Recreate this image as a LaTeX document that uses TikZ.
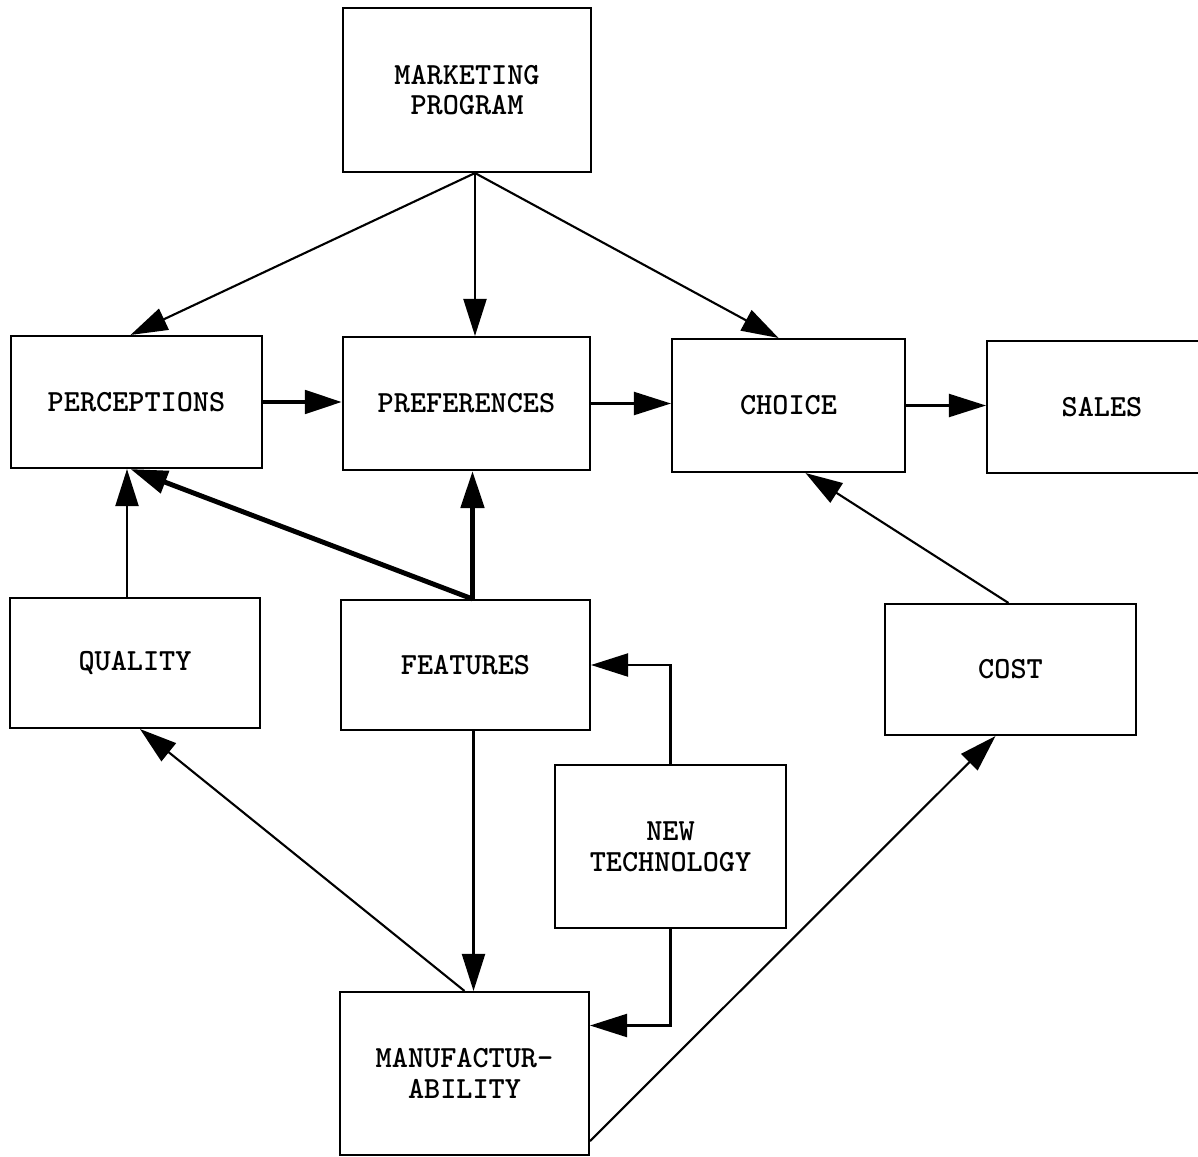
\documentclass[tikz,border=0pt]{standalone}
\usepackage{fontspec}
\usepackage{tikz}
\usetikzlibrary{positioning,arrows.meta,calc}

\begin{document}
\begin{tikzpicture}[
  x=0.02cm, y=-0.02cm,
  font=\ttfamily\bfseries\fontsize{17.5}{17.5}\selectfont,
  box/.style={
    rectangle, draw=black, line width=1.2pt,
    inner sep=0pt, align=center
  },
  arrow/.style={-{Triangle[length=0.74cm,width=0.46cm]}, line width=1.2pt},
  heavy/.style={arrow, line width=2.8pt}
]

\useasboundingbox (0,0) rectangle (1198,1157);

% --- TOP ROW ---
\node[box, minimum width=4.96cm, minimum height=3.28cm] (market) at (467,90) {MARKETING\\PROGRAM};

% --- MIDDLE ROW ---
\node[box, minimum width=5.02cm, minimum height=2.64cm] (percep) at (136.5,402) {PERCEPTIONS};
\node[box, minimum width=4.94cm, minimum height=2.66cm] (prefer) at (466.5,403.5) {PREFERENCES};
\node[box, minimum width=4.66cm, minimum height=2.66cm] (choice) at (788.5,405.5) {CHOICE};
\node[box, minimum width=4.60cm, minimum height=2.64cm] (sales) at (1102,407) {SALES};

% --- PRODUCT ROW ---
\node[box, minimum width=5.00cm, minimum height=2.60cm] (quality) at (135,663) {QUALITY};
\node[box, minimum width=4.98cm, minimum height=2.60cm] (features) at (465.5,665) {FEATURES};
\node[box, minimum width=5.02cm, minimum height=2.62cm] (cost) at (1010.5,669.5) {COST};

% --- BOTTOM ---
\node[box, minimum width=4.62cm, minimum height=3.26cm] (newtech) at (670.5,846.5) {NEW\\TECHNOLOGY};
\node[box, minimum width=4.98cm, minimum height=3.26cm] (manuf) at (464.5,1073.5) {MANUFACTUR-\\ABILITY};

% --- marketing program fans out ---
\coordinate (mk) at ($(market.south)+(8,0)$);
\draw[arrow] (mk) -- ($(percep.north)+(-6,0)$);
\draw[arrow] (mk) -- (mk |- prefer.north);
\draw[arrow] (mk) -- ($(choice.north)+(-10,0)$);

% --- main chain ---
\draw[heavy] (percep.east) -- (percep.east -| prefer.west);
\draw[arrow] (prefer.east) -- (prefer.east -| choice.west);
\draw[arrow] (choice.east) -- (choice.east -| sales.west);

% --- product attributes upward ---
\coordinate (ql) at ($(quality.north)+(-8,0)$);
\draw[arrow] (ql) -- (ql |- percep.south);
\coordinate (ft) at ($(features.north)+(7,0)$);
\draw[heavy] (ft) -- ($(percep.south)+(-6,0)$);
\draw[heavy] (ft) -- (ft |- prefer.south);
\draw[arrow] ($(cost.north)+(-2,0)$) -- ($(choice.south)+(17,0)$);

% --- new technology and manufacturability ---
\draw[arrow] (newtech.north) |- (features.east);
\draw[arrow] (newtech.south) |- ($(manuf.east)+(0,-48)$);
\coordinate (fb) at ($(features.south)+(8,0)$);
\draw[arrow] (fb) -- (fb |- manuf.north);
\draw[arrow] (manuf.north) -- ($(quality.south)+(5,0)$);
\draw[arrow] ($(manuf.south east)+(0,-15)$) -- ($(cost.south)+(-15,0)$);

\end{tikzpicture}
\end{document}
